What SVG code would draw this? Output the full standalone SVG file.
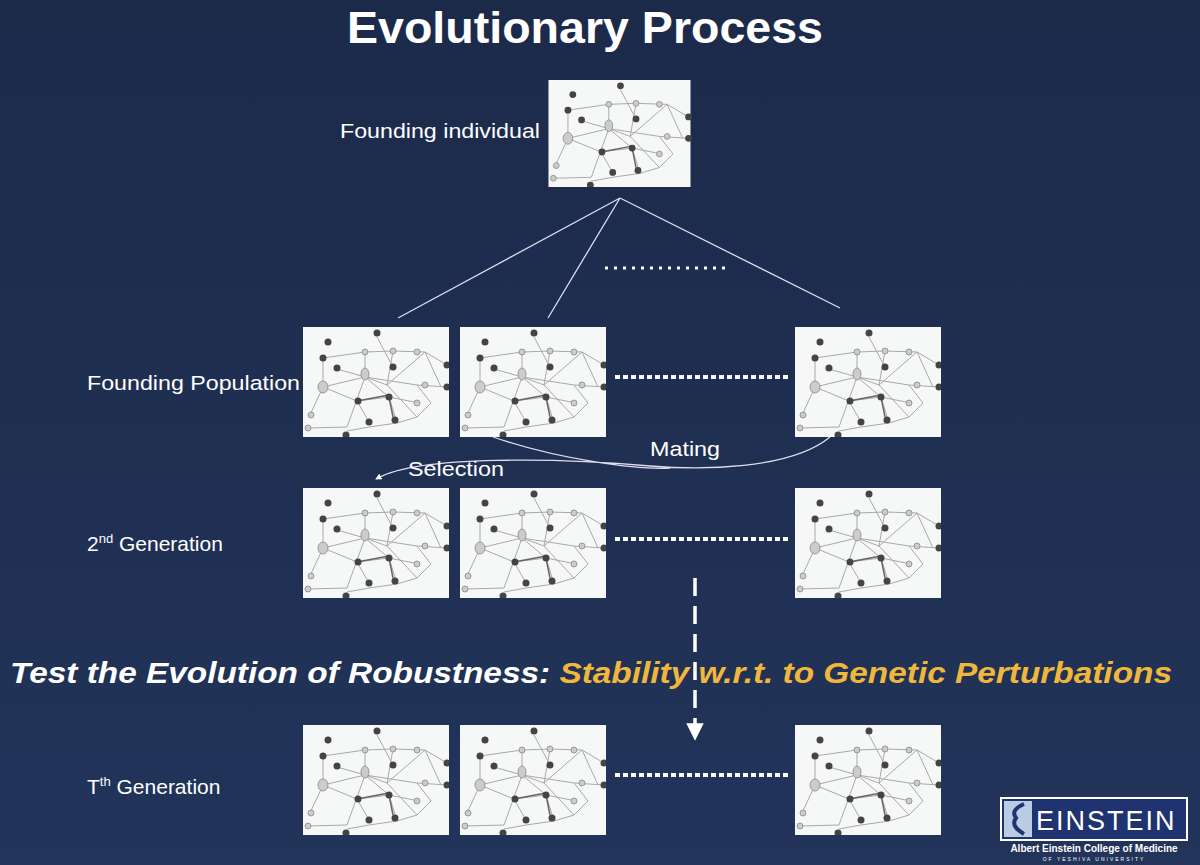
<svg xmlns="http://www.w3.org/2000/svg" width="1200" height="865" viewBox="0 0 1200 865">
<defs>
<linearGradient id="bg" x1="0" y1="0" x2="0" y2="1"><stop offset="0" stop-color="#1c2a4a"/><stop offset="1" stop-color="#22345a"/></linearGradient>
<marker id="ah" viewBox="0 0 10 10" refX="5" refY="5" markerWidth="5" markerHeight="5" orient="auto"><path d="M0,0L10,5L0,10z" fill="#fff"/></marker>
<symbol id="net" viewBox="0 0 146 110">
<rect width="146" height="110" fill="#f6f7f7"/>
<g stroke="#a9a9a9" stroke-width="1" fill="none">
<path d="M20,31L62,25L90,24L122,25L144,38M62,25L62,50L84,58L90,24M84,58L122,25L138,60M62,50L20,60L20,31M62,50L114,58L128,76L114,90M84,58L114,90L94,96M74,10L90,40M62,50L86,70L94,96L66,100L44,104M20,60L54,74L86,70L116,76M54,74L66,95M34,42L62,50M5,101L44,100M62,50L44,100M7,88L20,60M114,58L144,60"/>
<path d="M86,70L90,90M54,74L86,68" stroke="#666" stroke-width="1.5"/>
</g>
<g fill="#444"><circle cx="74" cy="6" r="3.5"/><circle cx="25" cy="15" r="3.5"/><circle cx="20" cy="31" r="3.5"/><circle cx="34" cy="41" r="3.5"/><circle cx="90" cy="40" r="3.5"/><circle cx="144" cy="38" r="3.5"/><circle cx="144" cy="60" r="3.5"/><circle cx="55" cy="74" r="3.5"/><circle cx="86" cy="70" r="3.5"/><circle cx="66" cy="95" r="3.5"/><circle cx="92" cy="93" r="3.5"/><circle cx="43" cy="108" r="3.5"/></g>
<g fill="#ccc" stroke="#888" stroke-width=".8"><circle cx="62" cy="25" r="3"/><circle cx="90" cy="24" r="3"/><circle cx="114" cy="25" r="3"/><ellipse cx="62" cy="47" rx="4" ry="6"/><ellipse cx="20" cy="60" rx="5" ry="6"/><circle cx="122" cy="58" r="3"/><circle cx="114" cy="76" r="3"/><circle cx="8" cy="88" r="3"/><circle cx="5" cy="101" r="3"/></g>
</symbol>
</defs>
<style>
text{font-family:"Liberation Sans",Arial,sans-serif;fill:#fff}
.lab{font-size:21px}
.dot{stroke:#fff;stroke-width:4;stroke-dasharray:5 3;fill:none}
.ln{stroke:#dde;stroke-width:1.3;fill:none}
</style>
<rect width="1200" height="865" fill="url(#bg)"/>
<text x="347" y="43" font-size="44" font-weight="bold" textLength="476" lengthAdjust="spacingAndGlyphs">Evolutionary Process</text>

<g id="founder"><use href="#net" x="547" y="80" width="145" height="107"/><text class="lab" x="340" y="138" textLength="200" lengthAdjust="spacingAndGlyphs">Founding individual</text></g>

<g id="row1"><text class="lab" x="87" y="390" textLength="213" lengthAdjust="spacingAndGlyphs">Founding Population</text>
<use href="#net" x="303" y="327" width="146" height="110"/><use href="#net" x="460" y="327" width="146" height="110"/><use href="#net" x="795" y="327" width="146" height="110"/></g>
<g id="row2"><text class="lab" x="87" y="551">2<tspan font-size="13" dy="-8">nd</tspan><tspan dy="8"> Generation</tspan></text>
<use href="#net" x="303" y="488" width="146" height="110"/><use href="#net" x="460" y="488" width="146" height="110"/><use href="#net" x="795" y="488" width="146" height="110"/></g>
<g id="row3"><text class="lab" x="87" y="794">T<tspan font-size="13" dy="-8">th</tspan><tspan dy="8"> Generation</tspan></text>
<use href="#net" x="303" y="725" width="146" height="110"/><use href="#net" x="460" y="725" width="146" height="110"/><use href="#net" x="795" y="725" width="146" height="110"/></g>

<g id="connectors">
<path class="ln" d="M620,198L398,318M620,198L548,318M620,198L840,308"/>
<path d="M605,268H730" stroke="#fff" stroke-width="3" stroke-dasharray="3 6"/>
<path class="dot" d="M615,377H790M615,539H790M615,775H790"/>
<path class="ln" d="M493,437C560,460 640,470 670,468M830,437C790,470 700,470 650,466C560,458 420,455 378,478" marker-end="url(#ah)"/>
<path d="M695,578V732" stroke="#fff" stroke-width="3.5" stroke-dasharray="18 10" marker-end="url(#ah)"/>
</g>
<text class="lab" x="650" y="456" textLength="70" lengthAdjust="spacingAndGlyphs">Mating</text>
<text class="lab" x="408" y="476" textLength="96" lengthAdjust="spacingAndGlyphs">Selection</text>

<text x="10" y="683" font-size="30" font-weight="bold" font-style="italic" textLength="1162" lengthAdjust="spacingAndGlyphs">Test the Evolution of Robustness: <tspan fill="#f0b73c">Stability w.r.t. to Genetic Perturbations</tspan></text>

<g id="logo">
<rect x="1000" y="797" width="188" height="44" fill="#fff"/>
<rect x="1002" y="799" width="184" height="40" fill="#1e3370"/>
<rect x="1004" y="801" width="28" height="36" fill="#b9cce4"/>
<path d="M1024,804Q1010,810 1016,818Q1010,826 1024,834" stroke="#1e3370" stroke-width="4" fill="none"/>
<text x="1036" y="830" font-size="27" letter-spacing="2">EINSTEIN</text>
<text x="1094" y="852" font-size="10" text-anchor="middle" font-weight="bold">Albert Einstein College of Medicine</text>
<text x="1094" y="861" font-size="5" text-anchor="middle" letter-spacing="2">OF YESHIVA UNIVERSITY</text>
</g>
</svg>
